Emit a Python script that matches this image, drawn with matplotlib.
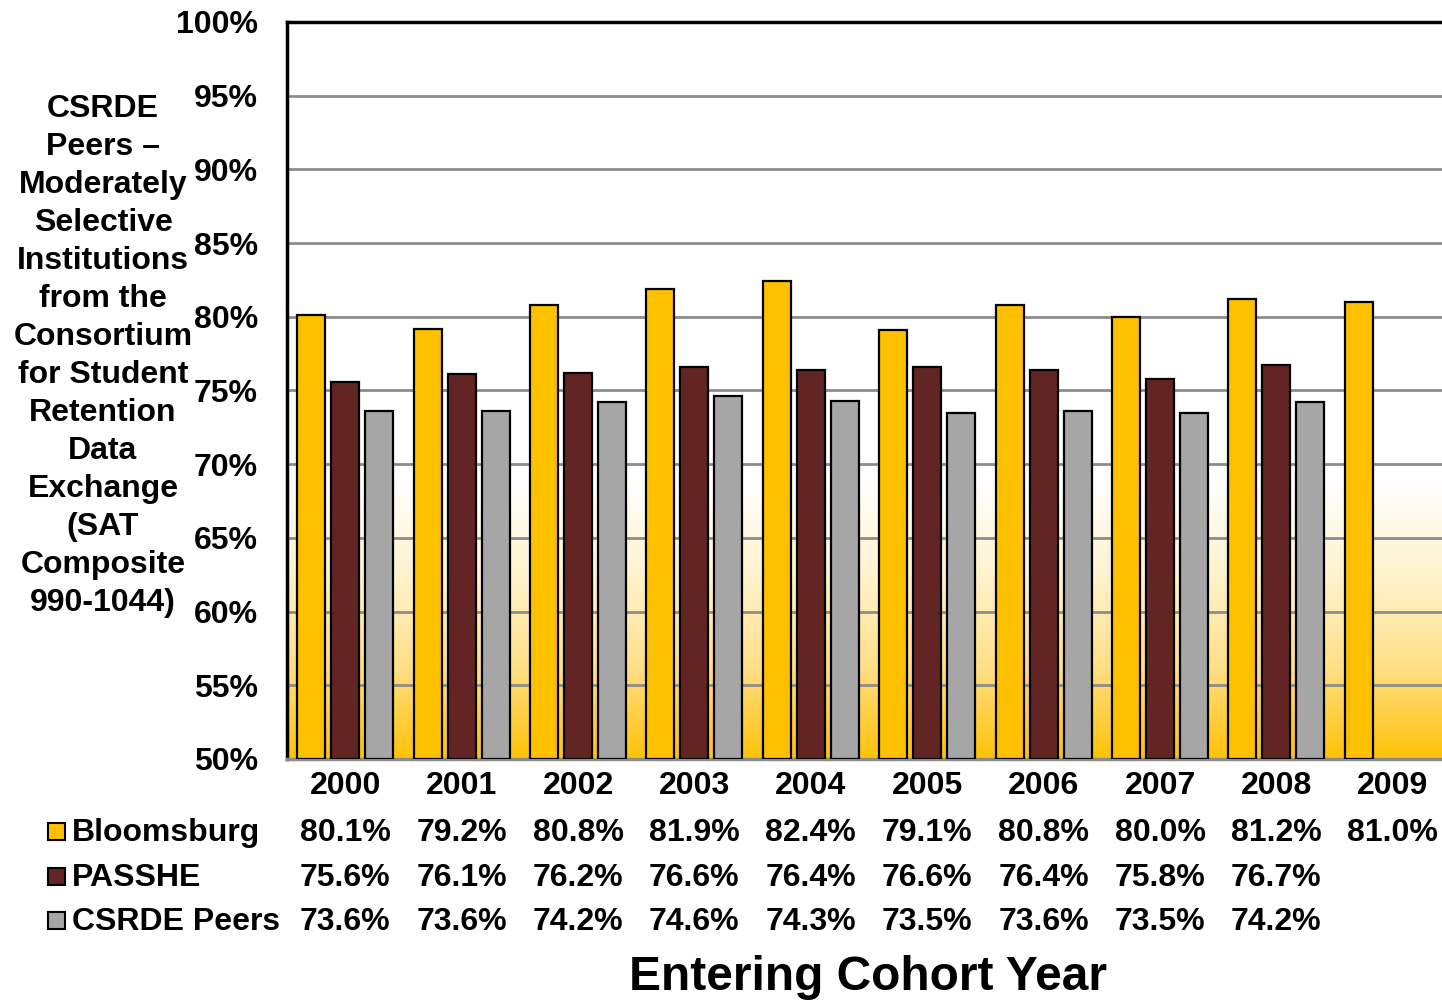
import numpy as np
import matplotlib
matplotlib.use("Agg")
import matplotlib.pyplot as plt
from matplotlib.transforms import blended_transform_factory
from matplotlib.patches import Rectangle
from matplotlib.colors import LinearSegmentedColormap

years = ["2000", "2001", "2002", "2003", "2004", "2005", "2006", "2007", "2008", "2009"]
bloomsburg = [80.1, 79.2, 80.8, 81.9, 82.4, 79.1, 80.8, 80.0, 81.2, 81.0]
passhe = [75.6, 76.1, 76.2, 76.6, 76.4, 76.6, 76.4, 75.8, 76.7, np.nan]
csrde = [73.6, 73.6, 74.2, 74.6, 74.3, 73.5, 73.6, 73.5, 74.2, np.nan]
series_names = ["Bloomsburg", "PASSHE", "CSRDE Peers"]
yticks = [50, 55, 60, 65, 70, 75, 80, 85, 90, 95, 100]

colors = ["#FFC000", "#632523", "#A6A6A6"]

plt.rcParams['font.family'] = ['Liberation Sans', 'DejaVu Sans']
plt.rcParams['font.weight'] = 'bold'

FS = 23
W, H = 1442, 1001
fig = plt.figure(figsize=(W / 100, H / 100), dpi=100)
ax = fig.add_axes([287 / W, 1 - 759 / H, (W - 287) / W, (759 - 22) / H])

x = np.arange(len(years))
xmax = -0.5 + (W - 287) / 116.4
ax.set_xlim(-0.5, xmax)
ax.set_ylim(50, 100)

# gradient background: white above ~69%, gold at the bottom
grad_top = 69.0
ys = np.linspace(100, 50, 500)
vals = np.clip((grad_top - ys) / (grad_top - 50), 0, 1)
cmap = LinearSegmentedColormap.from_list("g", ["#FFFFFF", "#FFF3D0", "#FFE08A", "#FFC208"], N=256)
ax.imshow(vals[:, None], aspect='auto', cmap=cmap, vmin=0, vmax=1,
          extent=[-0.5, xmax, 50, 100], zorder=0, interpolation='bilinear')

for yv in yticks[1:-1]:
    ax.axhline(yv, color="#8C8C8C", lw=2, zorder=1)

bw = 0.24
offs = [-0.292, 0.0, 0.292]
for data, c, o in zip([bloomsburg, passhe, csrde], colors, offs):
    d = np.array(data, dtype=float)
    m = ~np.isnan(d)
    ax.bar(x[m] + o, d[m] - 50, bottom=50, width=bw, color=c,
           edgecolor="black", linewidth=1.6, zorder=3)

for s in ["left", "top"]:
    ax.spines[s].set_color("black")
    ax.spines[s].set_linewidth(2.5)
ax.spines["right"].set_visible(False)
ax.spines["bottom"].set_color("#8C8C8C")
ax.spines["bottom"].set_linewidth(2.5)

ax.set_yticks(yticks)
ax.set_yticklabels([f"{v}%" for v in yticks], fontsize=FS, fontweight='bold')
ax.tick_params(axis='y', length=0, pad=21)
ax.set_xticks(x)
ax.set_xticklabels(years, fontsize=FS, fontweight='bold')
ax.tick_params(axis='x', length=0, pad=9)

# left label
fig.text(103 / W, 1 - 356 / H,
         "CSRDE\nPeers –\nModerately\nSelective\nInstitutions\nfrom the\nConsortium\nfor Student\nRetention\nData\nExchange\n(SAT\nComposite\n990-1044)",
         ha='center', va='center', fontsize=FS, fontweight='bold', linespacing=1.35)

# data table
tr = blended_transform_factory(ax.transData, fig.transFigure)
row_y = [831, 876, 920]
for data, c, ry, name in zip([bloomsburg, passhe, csrde], colors, row_y, series_names):
    ty = 1 - (ry + 2) / H
    for xi, v in zip(x, data):
        if not np.isnan(v):
            ax.text(xi, ty, f"{v:.1f}%", transform=tr, ha='center', va='center',
                    fontsize=FS, fontweight='bold', clip_on=False)
    fig.patches.append(Rectangle(((56 - 8.5) / W, 1 - (ry + 8.5) / H), 17 / W, 17 / H,
                                 transform=fig.transFigure, facecolor=c,
                                 edgecolor='black', linewidth=1.5))
    fig.text(72 / W, ty, name, ha='left', va='center', fontsize=FS, fontweight='bold')

fig.text(868 / W, 1 - 977 / H, "Entering Cohort Year", ha='center', va='center',
         fontsize=34.5, fontweight='bold')

fig.savefig("out.png", dpi=100)
